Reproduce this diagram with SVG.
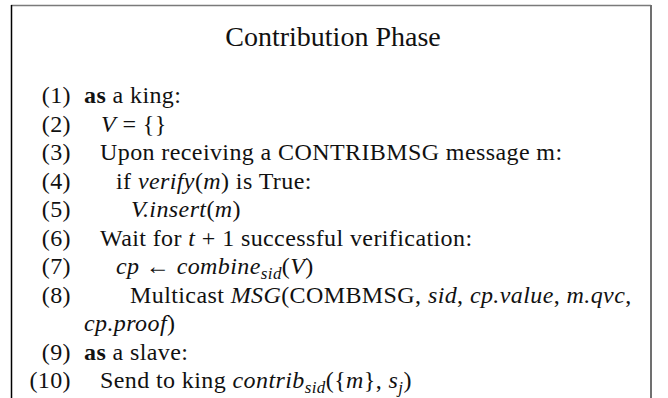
<svg xmlns="http://www.w3.org/2000/svg" width="668" height="398" viewBox="0 0 668 398">
<style>
.t{font-family:"Liberation Serif","Times New Roman",serif;font-size:24px;letter-spacing:0.4px;fill:#111}
.ttl{font-family:"Liberation Serif","Times New Roman",serif;font-size:28px;fill:#111}
.n{text-anchor:end}
.i{font-style:italic}
.b{font-weight:bold}
.s{font-size:17px;font-style:italic}
</style>
<rect width="668" height="398" fill="#fff"/>
<line x1="11" y1="5.5" x2="651" y2="5.5" stroke="#7a7a7a" stroke-width="1.5"/>
<line x1="11.5" y1="5" x2="11.5" y2="398" stroke="#000" stroke-width="1.5"/>
<line x1="651" y1="5" x2="651" y2="398" stroke="#707070" stroke-width="2"/>
<text class="ttl" x="333" y="46" text-anchor="middle">Contribution Phase</text>

<text class="t n" x="71" y="103">(1)</text>
<text class="t" x="84" y="103"><tspan class="b">as</tspan> a king:</text>

<text class="t n" x="71" y="131.5">(2)</text>
<text class="t" x="101" y="131.5"><tspan class="i">V</tspan> = {}</text>

<text class="t n" x="71" y="160">(3)</text>
<text class="t" x="100" y="160">Upon receiving a CONTRIBMSG message m:</text>

<text class="t n" x="71" y="188.5">(4)</text>
<text class="t" x="116" y="188.5">if <tspan class="i">verify</tspan>(<tspan class="i">m</tspan>) is True:</text>

<text class="t n" x="71" y="217">(5)</text>
<text class="t" x="131" y="217"><tspan class="i">V.insert</tspan>(<tspan class="i">m</tspan>)</text>

<text class="t n" x="71" y="245.5">(6)</text>
<text class="t" x="100" y="245.5">Wait for <tspan class="i">t</tspan> + 1 successful verification:</text>

<text class="t n" x="71" y="274">(7)</text>
<text class="t" x="116" y="274"><tspan class="i">cp</tspan> ← <tspan class="i">combine</tspan><tspan class="s" dy="5">sid</tspan><tspan dy="-5">(</tspan><tspan class="i">V</tspan>)</text>

<text class="t n" x="71" y="302.5">(8)</text>
<text class="t" x="130" y="302.5">Multicast <tspan class="i">MSG</tspan>(COMBMSG, <tspan class="i">sid</tspan>, <tspan class="i">cp.value</tspan>, <tspan class="i">m.qvc</tspan>,</text>
<text class="t" x="84" y="331"><tspan class="i">cp.proof</tspan>)</text>

<text class="t n" x="71" y="359.5">(9)</text>
<text class="t" x="84" y="359.5"><tspan class="b">as</tspan> a slave:</text>

<text class="t n" x="71" y="388">(10)</text>
<text class="t" x="100" y="388">Send to king <tspan class="i">contrib</tspan><tspan class="s" dy="5">sid</tspan><tspan dy="-5">({</tspan><tspan class="i">m</tspan>}, <tspan class="i">s</tspan><tspan class="s" dy="5">j</tspan><tspan dy="-5">)</tspan></text>
</svg>
